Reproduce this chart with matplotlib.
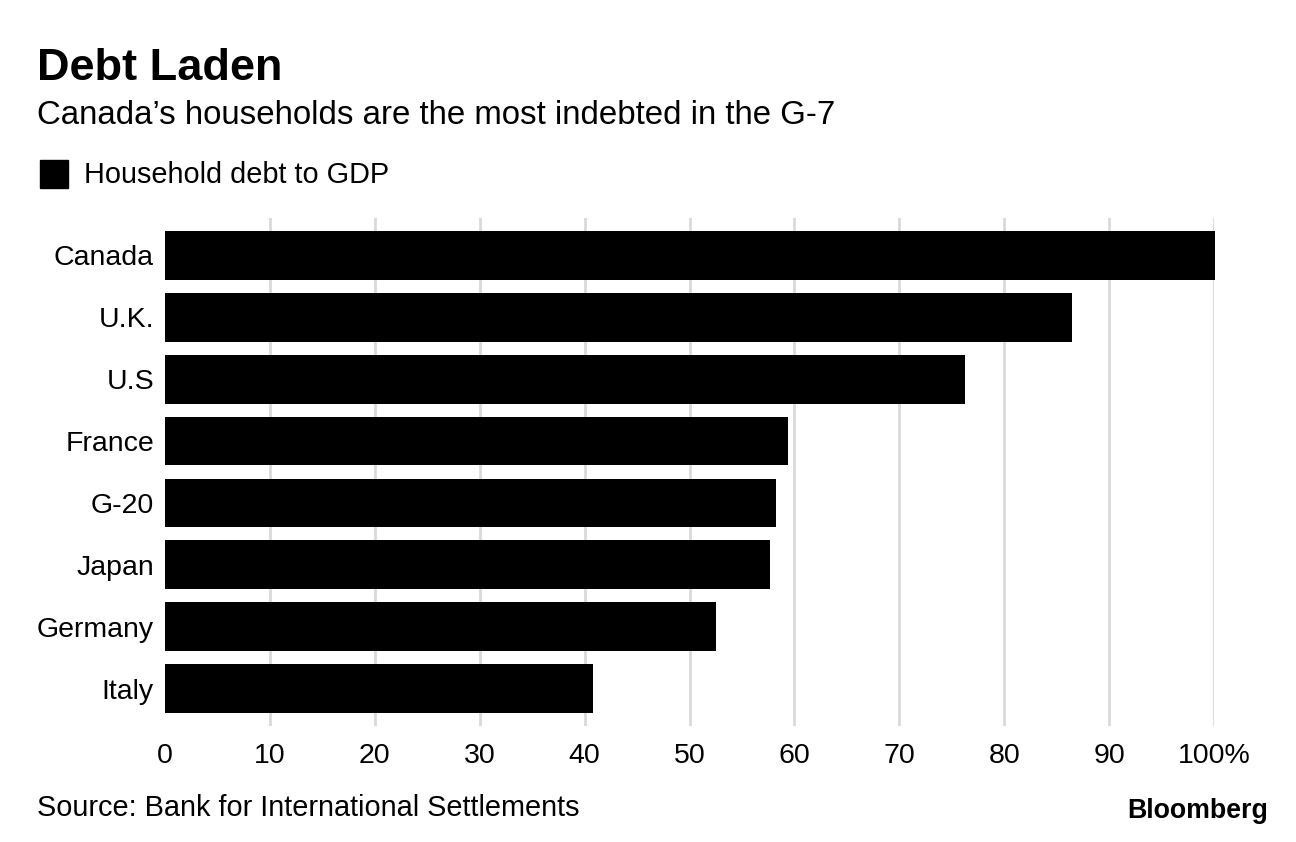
import matplotlib.pyplot as plt
from matplotlib.patches import Rectangle

countries = ["Canada", "U.K.", "U.S", "France", "G-20", "Japan", "Germany", "Italy"]
debt_to_gdp = [100.1, 86.5, 76.3, 59.4, 58.2, 57.7, 52.5, 40.8]
ticks = [0, 10, 20, 30, 40, 50, 60, 70, 80, 90, 100]
tick_labels = ["0", "10", "20", "30", "40", "50", "60", "70", "80", "90", "100%"]

plt.rcParams['font.family'] = ['Liberation Sans', 'DejaVu Sans']

fig = plt.figure(figsize=(12.96, 8.42), dpi=100)
ax = fig.add_axes([165 / 1296, 1 - 726 / 842, 1049 / 1296, 508 / 842])

ax.barh(range(len(countries)), debt_to_gdp, height=0.79, color="black", zorder=3, clip_on=False)
ax.set_xlim(0, 100)
ax.set_ylim(len(countries) - 1 + 0.6, -0.6)
ax.set_xticks(ticks)
ax.set_xticklabels(tick_labels, fontsize=20.5)
ax.set_yticks(range(len(countries)))
ax.set_yticklabels(countries, fontsize=20.5)
ax.tick_params(length=0)
ax.tick_params(axis="x", pad=12)
ax.tick_params(axis="y", pad=8)
# grid lines except the one at zero
for t in ticks[1:]:
    ax.axvline(t, color="#d9d9d9", linewidth=2, zorder=0)
for s in ax.spines.values():
    s.set_visible(False)

fig.text(37 / 1296, 1 - 68 / 842, "Debt Laden", fontsize=32.5, fontweight="bold", va="center")
fig.text(37 / 1296, 1 - 116 / 842, "Canada\u2019s households are the most indebted in the G-7",
         fontsize=23.8, va="center")
fig.patches.append(Rectangle((40 / 1296, 1 - 188 / 842), 28 / 1296, 28 / 842,
                             transform=fig.transFigure, color="black"))
fig.text(84 / 1296, 1 - 175 / 842, "Household debt to GDP", fontsize=20.8, va="center")
fig.text(37 / 1296, 1 - 808 / 842, "Source: Bank for International Settlements", fontsize=20.8, va="center")
fig.text(1268 / 1296, 1 - 811 / 842, "Bloomberg", fontsize=19.3, fontweight="bold",
         va="center", ha="right")

fig.savefig("out.png", dpi=100)
